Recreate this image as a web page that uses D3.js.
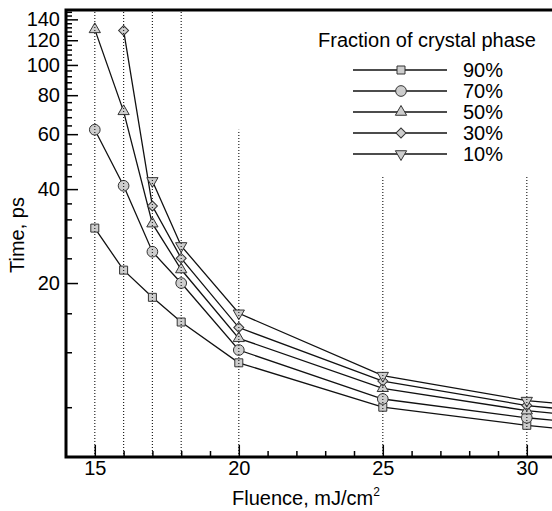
<!DOCTYPE html>
<meta charset="utf-8">
<title>Time vs fluence</title>
<style>
  body { margin: 0; background: #fff; }
  text { font-family: "Liberation Sans", Arial, sans-serif; fill: #000; }
</style>
<div id="viz"></div>
<script src="https://cdnjs.cloudflare.com/ajax/libs/d3/7.8.5/d3.min.js"></script>
<script>

var fluence = [15, 16, 17, 18, 20, 25, 30, 35];
var t90 = [30, 22, 18, 15, 11.1, 8.0, 7.0, 6.3];
var t70 = [62, 41, 25.2, 20, 12.2, 8.5, 7.4, 6.7];
var t50 = [130, 71, 31, 22.1, 13.3, 9.2, 7.8, 7.0];
var t30 = [null, 129, 35.3, 24.0, 14.4, 9.7, 8.1, 7.3];
var t10 = [null, null, 42.5, 26.3, 16.0, 10.1, 8.4, 7.6];

var seriesNames = ["90%", "70%", "50%", "30%", "10%"];
var seriesValues = [t90, t70, t50, t30, t10];

var xMajor = [15, 20, 25, 30];
var yMajor = [20, 40, 60, 80, 100, 120, 140];

// dotted guides: x position and how high they reach (time units)
var guideX = [15, 16, 17, 18, 20, 25, 30];
var guideTo = [150, 150, 150, 150, 62, 44, 44];

var width = 552, height = 511;
var plotLeft = 66, plotTop = 10, plotBottom = 457;

var svg = d3.select("#viz").append("svg")
  .attr("width", width)
  .attr("height", height);

var x = d3.scaleLinear().domain([14, 32]).range([plotLeft, plotLeft + 18 * 28.8]);
var y = d3.scaleLog().domain([5.54, 150]).range([plotBottom, plotTop]);

svg.append("clipPath").attr("id", "clip")
  .append("rect")
  .attr("x", plotLeft).attr("y", plotTop)
  .attr("width", width - plotLeft).attr("height", plotBottom - plotTop);

var plot = svg.append("g").attr("clip-path", "url(#clip)");

var symbols = [
  d3.symbol().type(d3.symbolSquare).size(64),
  d3.symbol().type(d3.symbolCircle).size(90),
  d3.symbol().type(d3.symbolTriangle).size(55),
  d3.symbol().type(d3.symbolSquare).size(50),
  d3.symbol().type(d3.symbolTriangle).size(55)
];
var rotate = [0, 0, 0, 45, 180];

var line = d3.line()
  .defined(function(d) { return d[1] != null; })
  .x(function(d) { return x(d[0]); })
  .y(function(d) { return y(d[1]); });

seriesValues.forEach(function(vals, i) {
  var pts = fluence.map(function(f, j) { return [f, vals[j]]; });
  plot.append("path")
    .attr("d", line(pts))
    .attr("fill", "none")
    .attr("stroke", "#111")
    .attr("stroke-width", 1.3);
});

seriesValues.forEach(function(vals, i) {
  var pts = fluence.map(function(f, j) { return [f, vals[j]]; })
    .filter(function(d) { return d[1] != null; });
  plot.selectAll(".m" + i).data(pts).enter().append("path")
    .attr("d", symbols[i])
    .attr("transform", function(d) {
      return "translate(" + x(d[0]) + "," + y(d[1]) + ") rotate(" + rotate[i] + ")";
    })
    .attr("fill", "#cdcdcd")
    .attr("stroke", "#333")
    .attr("stroke-width", 1);
});

// dotted guides on top of the markers
plot.selectAll(".guide").data(guideX).enter().append("line")
  .attr("x1", function(d) { return x(d); })
  .attr("x2", function(d) { return x(d); })
  .attr("y1", plotBottom)
  .attr("y2", function(d, i) { return y(guideTo[i]); })
  .attr("stroke", "#222")
  .attr("stroke-width", 1.2)
  .attr("stroke-dasharray", "1,2");

// axes
var yMinor = d3.range(8, 150, 4).filter(function(v) { return v % 20 != 0; });
var xMinor = d3.range(15, 32).filter(function(v) { return v % 5 != 0; });

svg.append("g")
  .attr("transform", "translate(" + plotLeft + ",0)")
  .call(d3.axisLeft(y).tickValues(yMinor).tickSize(-6).tickFormat(""))
  .call(function(g) { g.select(".domain").remove(); });
svg.append("g")
  .attr("transform", "translate(" + plotLeft + ",0)")
  .call(d3.axisLeft(y).tickValues(yMajor).tickSize(-12).tickPadding(6).tickFormat(d3.format("d")))
  .call(function(g) { g.select(".domain").remove(); });

svg.append("g")
  .attr("transform", "translate(0," + plotBottom + ")")
  .call(d3.axisBottom(x).tickValues(xMinor).tickSize(-6).tickFormat(""))
  .call(function(g) { g.select(".domain").remove(); });
svg.append("g")
  .attr("transform", "translate(0," + plotBottom + ")")
  .call(d3.axisBottom(x).tickValues(xMajor).tickSize(-12).tickPadding(4).tickFormat(d3.format("d")))
  .call(function(g) { g.select(".domain").remove(); });

svg.selectAll(".tick line").attr("stroke", "#000").attr("stroke-width", 1.5);
svg.selectAll(".tick text")
  .attr("font-family", "Liberation Sans, Arial, sans-serif")
  .attr("font-size", 20)
  .attr("fill", "#000");

// frame
svg.append("path")
  .attr("d", "M" + (width + 5) + "," + plotTop + "H" + plotLeft + "V" + plotBottom + "H" + (width + 5))
  .attr("fill", "none")
  .attr("stroke", "#000")
  .attr("stroke-width", 3);

// axis titles
svg.append("text")
  .attr("transform", "translate(24,235) rotate(-90)")
  .attr("text-anchor", "middle")
  .attr("font-size", 20)
  .text("Time, ps");

var xt = svg.append("text")
  .attr("x", 306)
  .attr("y", 505)
  .attr("text-anchor", "middle")
  .attr("font-size", 20)
  .text("Fluence, mJ/cm");
xt.append("tspan")
  .attr("font-size", 12)
  .attr("dy", -9)
  .text("2");

// legend
var legend = svg.append("g");
legend.append("text")
  .attr("x", 427)
  .attr("y", 47)
  .attr("text-anchor", "middle")
  .attr("font-size", 20)
  .text("Fraction of crystal phase");

var rowY = d3.scalePoint().domain(seriesNames).range([70, 154]);

seriesNames.forEach(function(name, i) {
  var ry = rowY(name);
  legend.append("line")
    .attr("x1", 353).attr("x2", 447)
    .attr("y1", ry).attr("y2", ry)
    .attr("stroke", "#111")
    .attr("stroke-width", 1.3);
  legend.append("path")
    .attr("d", symbols[i])
    .attr("transform", "translate(401," + ry + ") rotate(" + rotate[i] + ")")
    .attr("fill", "#cdcdcd")
    .attr("stroke", "#333")
    .attr("stroke-width", 1);
  legend.append("text")
    .attr("x", 463)
    .attr("y", ry)
    .attr("dy", "0.36em")
    .attr("font-size", 20)
    .text(name);
});

</script>
